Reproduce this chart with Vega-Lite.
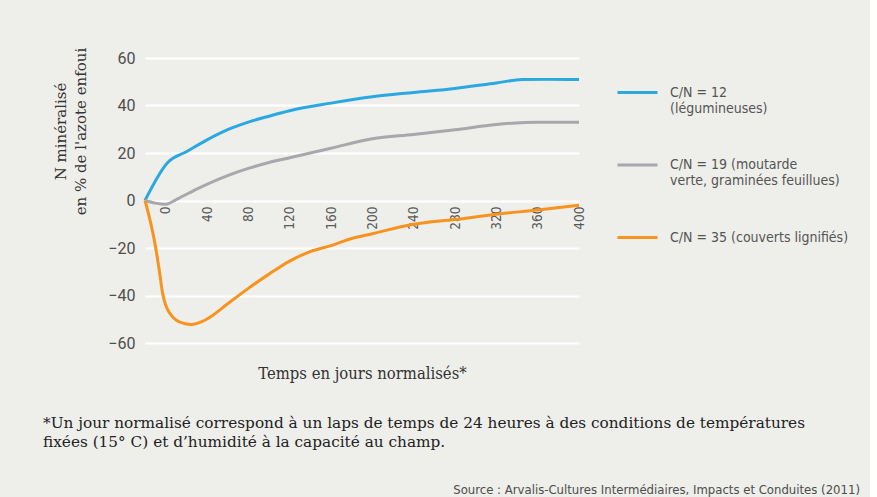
{
  "$schema": "https://vega.github.io/schema/vega-lite/v6.json",
  "background": "#EEEEEA",
  "padding": {"left": 43, "top": 47, "right": 10, "bottom": 2},
  "title": {
    "text": "Source : Arvalis-Cultures Intermédiaires, Impacts et Conduites (2011)",
    "orient": "bottom",
    "anchor": "end",
    "font": "DejaVu Sans Condensed",
    "fontSize": 13,
    "fontWeight": "normal",
    "color": "#4D4D4D",
    "offset": 34,
    "dx": 11
  },
  "vconcat": [
    {
      "width": 434,
      "height": 285,
      "title": {
        "text": ["*Un jour normalisé correspond à un laps de temps de 24 heures à des conditions de températures", "fixées (15° C) et d’humidité à la capacité au champ."],
        "orient": "bottom",
        "anchor": "start",
        "font": "DejaVu Serif",
        "fontSize": 15.3,
        "fontWeight": "normal",
        "color": "#222222",
        "lineHeight": 19,
        "offset": 34,
        "dx": -10
      },
      "data": {
        "values": [
          {"series": "C/N = 12|(légumineuses)", "day": -20, "value": 0},
          {"series": "C/N = 12|(légumineuses)", "day": 2, "value": 16},
          {"series": "C/N = 12|(légumineuses)", "day": 20, "value": 20.5},
          {"series": "C/N = 12|(légumineuses)", "day": 40, "value": 25.5},
          {"series": "C/N = 12|(légumineuses)", "day": 60, "value": 29.8},
          {"series": "C/N = 12|(légumineuses)", "day": 80, "value": 33},
          {"series": "C/N = 12|(légumineuses)", "day": 100, "value": 35.5},
          {"series": "C/N = 12|(légumineuses)", "day": 120, "value": 37.8},
          {"series": "C/N = 12|(légumineuses)", "day": 160, "value": 41},
          {"series": "C/N = 12|(légumineuses)", "day": 200, "value": 43.7},
          {"series": "C/N = 12|(légumineuses)", "day": 240, "value": 45.5},
          {"series": "C/N = 12|(légumineuses)", "day": 280, "value": 47.2},
          {"series": "C/N = 12|(légumineuses)", "day": 320, "value": 49.5},
          {"series": "C/N = 12|(légumineuses)", "day": 345, "value": 50.9},
          {"series": "C/N = 12|(légumineuses)", "day": 370, "value": 51},
          {"series": "C/N = 12|(légumineuses)", "day": 400, "value": 50.9},
          {"series": "C/N = 19 (moutarde|verte, graminées feuillues)", "day": -20, "value": 0},
          {"series": "C/N = 19 (moutarde|verte, graminées feuillues)", "day": -10, "value": -1.1},
          {"series": "C/N = 19 (moutarde|verte, graminées feuillues)", "day": 0, "value": -1.6},
          {"series": "C/N = 19 (moutarde|verte, graminées feuillues)", "day": 12, "value": 0.8},
          {"series": "C/N = 19 (moutarde|verte, graminées feuillues)", "day": 30, "value": 4.8},
          {"series": "C/N = 19 (moutarde|verte, graminées feuillues)", "day": 60, "value": 10.5},
          {"series": "C/N = 19 (moutarde|verte, graminées feuillues)", "day": 80, "value": 13.5},
          {"series": "C/N = 19 (moutarde|verte, graminées feuillues)", "day": 100, "value": 16},
          {"series": "C/N = 19 (moutarde|verte, graminées feuillues)", "day": 120, "value": 18},
          {"series": "C/N = 19 (moutarde|verte, graminées feuillues)", "day": 160, "value": 22},
          {"series": "C/N = 19 (moutarde|verte, graminées feuillues)", "day": 200, "value": 26},
          {"series": "C/N = 19 (moutarde|verte, graminées feuillues)", "day": 240, "value": 27.8},
          {"series": "C/N = 19 (moutarde|verte, graminées feuillues)", "day": 280, "value": 29.8},
          {"series": "C/N = 19 (moutarde|verte, graminées feuillues)", "day": 320, "value": 32},
          {"series": "C/N = 19 (moutarde|verte, graminées feuillues)", "day": 360, "value": 33},
          {"series": "C/N = 19 (moutarde|verte, graminées feuillues)", "day": 400, "value": 33},
          {"series": "C/N = 35 (couverts lignifiés)", "day": -20, "value": 0},
          {"series": "C/N = 35 (couverts lignifiés)", "day": -15, "value": -8.5},
          {"series": "C/N = 35 (couverts lignifiés)", "day": -10, "value": -19},
          {"series": "C/N = 35 (couverts lignifiés)", "day": -6, "value": -30},
          {"series": "C/N = 35 (couverts lignifiés)", "day": -3, "value": -39},
          {"series": "C/N = 35 (couverts lignifiés)", "day": 0, "value": -44},
          {"series": "C/N = 35 (couverts lignifiés)", "day": 4, "value": -47.5},
          {"series": "C/N = 35 (couverts lignifiés)", "day": 10, "value": -50.3},
          {"series": "C/N = 35 (couverts lignifiés)", "day": 18, "value": -51.8},
          {"series": "C/N = 35 (couverts lignifiés)", "day": 25, "value": -52.2},
          {"series": "C/N = 35 (couverts lignifiés)", "day": 35, "value": -51},
          {"series": "C/N = 35 (couverts lignifiés)", "day": 45, "value": -48.5},
          {"series": "C/N = 35 (couverts lignifiés)", "day": 60, "value": -43.5},
          {"series": "C/N = 35 (couverts lignifiés)", "day": 80, "value": -37},
          {"series": "C/N = 35 (couverts lignifiés)", "day": 100, "value": -31},
          {"series": "C/N = 35 (couverts lignifiés)", "day": 120, "value": -25.5},
          {"series": "C/N = 35 (couverts lignifiés)", "day": 140, "value": -21.5},
          {"series": "C/N = 35 (couverts lignifiés)", "day": 160, "value": -19},
          {"series": "C/N = 35 (couverts lignifiés)", "day": 180, "value": -16},
          {"series": "C/N = 35 (couverts lignifiés)", "day": 200, "value": -14},
          {"series": "C/N = 35 (couverts lignifiés)", "day": 240, "value": -10},
          {"series": "C/N = 35 (couverts lignifiés)", "day": 280, "value": -8},
          {"series": "C/N = 35 (couverts lignifiés)", "day": 320, "value": -5.8},
          {"series": "C/N = 35 (couverts lignifiés)", "day": 360, "value": -4},
          {"series": "C/N = 35 (couverts lignifiés)", "day": 400, "value": -2}
        ]
      },
      "mark": {"type": "line", "strokeWidth": 3, "interpolate": "monotone"},
      "encoding": {
        "x": {
          "field": "day",
          "type": "quantitative",
          "scale": {"domain": [-20, 400], "nice": false, "zero": false},
          "axis": {
            "values": [0, 40, 80, 120, 160, 200, 240, 280, 320, 360, 400],
            "offset": -142,
            "domain": false,
            "ticks": false,
            "grid": false,
            "labelAngle": 270,
            "labelPadding": 5,
            "labelFont": "DejaVu Sans Condensed",
            "labelFontSize": 13.5,
            "labelColor": "#5A5A5A",
            "title": "Temps en jours normalisés*",
            "titleFont": "DejaVu Serif Condensed, DejaVu Serif",
            "titleFontSize": 16.5,
            "titleFontWeight": "normal",
            "titleColor": "#333333",
            "titleBaseline": "middle",
            "titleY": 172
          }
        },
        "y": {
          "field": "value",
          "type": "quantitative",
          "scale": {"domain": [-60, 60], "nice": false},
          "axis": {
            "values": [-60, -40, -20, 0, 20, 40, 60],
            "domain": false,
            "ticks": false,
            "gridColor": "#FFFFFF",
            "gridWidth": 2,
            "gridOpacity": 1,
            "labelPadding": 10,
            "labelFont": "Roboto",
            "labelFontSize": 16,
            "labelColor": "#4D4D4D",
            "title": ["N minéralisé", "en % de l'azote enfoui"],
            "titleFont": "DejaVu Serif",
            "titleFontSize": 15,
            "titleFontWeight": "normal",
            "titleColor": "#333333",
            "titleLineHeight": 20,
            "titleAngle": 270,
            "titleAlign": "center",
            "titleBaseline": "middle",
            "titleX": -85,
            "titleY": 73
          }
        },
        "color": {
          "field": "series",
          "type": "nominal",
          "scale": {
            "domain": ["C/N = 12|(légumineuses)", "C/N = 19 (moutarde|verte, graminées feuillues)", "C/N = 35 (couverts lignifiés)"],
            "range": ["#2AA8E0", "#A8A7AC", "#F7931E"]
          },
          "legend": {
            "orient": "none",
            "legendX": 471,
            "legendY": 13,
            "title": null,
            "padding": 0,
            "symbolType": "stroke",
            "symbolSize": 1600,
            "symbolStrokeWidth": 3,
            "labelExpr": "split(datum.label, '|')",
            "labelFont": "DejaVu Sans Condensed",
            "labelFontSize": 14,
            "labelColor": "#555555",
            "labelBaseline": "middle",
            "labelLineHeight": 19,
            "labelOffset": 11,
            "labelLimit": 300,
            "rowPadding": 27.5
          }
        }
      }
    }
  ],
  "config": {
    "view": {"stroke": null},
    "concat": {"spacing": 0}
  }
}
